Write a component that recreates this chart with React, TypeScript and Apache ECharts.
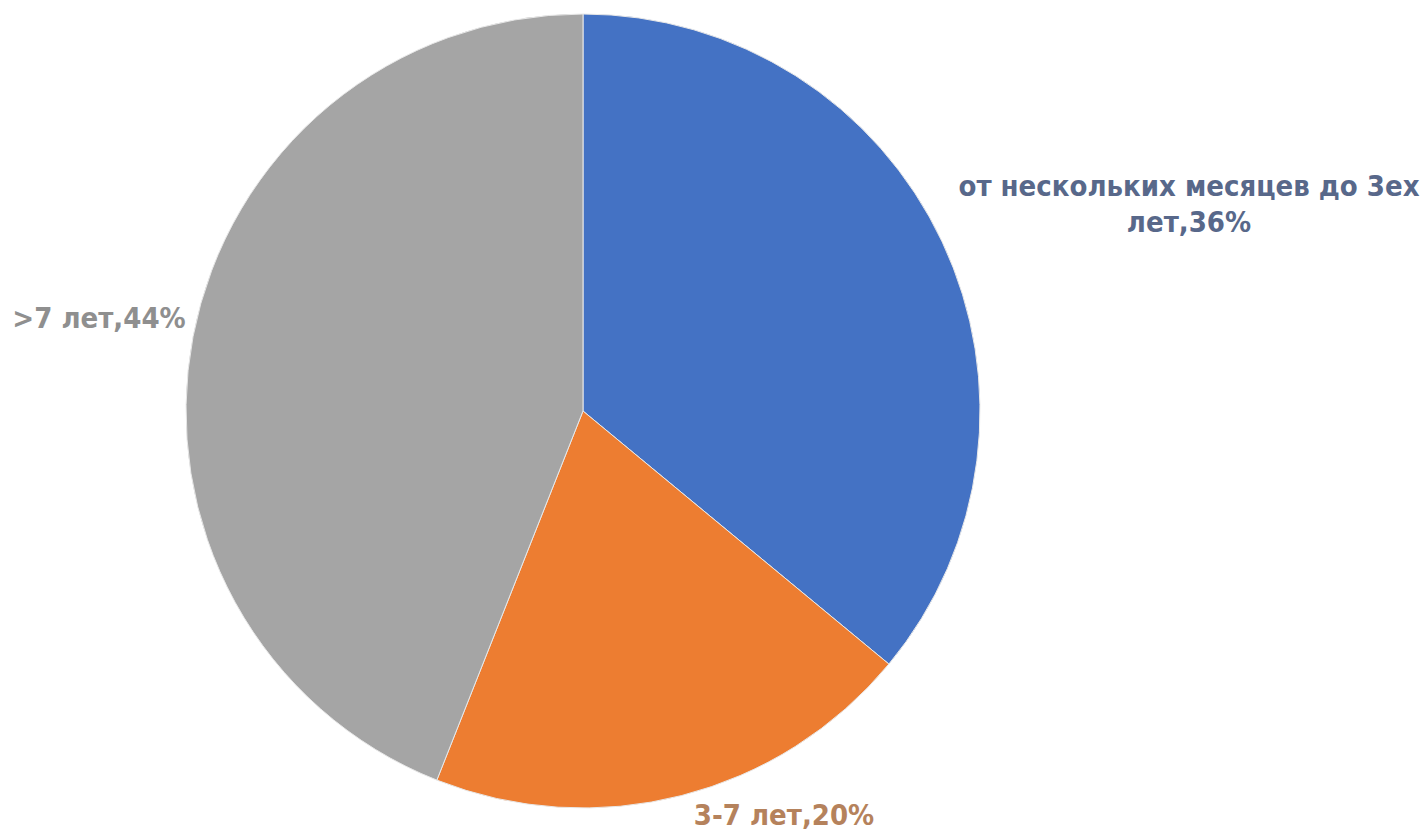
import React, { useEffect, useRef } from "react";
import * as echarts from "echarts";

const categories = ["от нескольких месяцев до 3ех\nлет", "3-7 лет", ">7 лет"];
const values = [36, 20, 44];
const colors = ["#4472C4", "#ED7D31", "#A5A5A5"];
const labelColors = ["#58688a", "#b5825c", "#8f8f8f"];

export default function App() {
  const ref = useRef<HTMLDivElement>(null);
  useEffect(() => {
    document.body.style.margin = "0";
    const chart = echarts.init(ref.current!, null, { renderer: "svg" });
    const labelPos: Record<number, { x: number; y: number }> = {
      0: { x: 1189, y: 204 },
      1: { x: 784, y: 815 },
      2: { x: 99, y: 318 },
    };
    chart.setOption({
      animation: false,
      backgroundColor: "#ffffff",
      series: [
        {
          type: "pie",
          center: [583, 411],
          radius: 397,
          startAngle: 90,
          clockwise: true,
          avoidLabelOverlap: false,
          data: categories.map((c, i) => ({
            name: c,
            value: values[i],
            itemStyle: { color: colors[i] },
            label: { color: labelColors[i] },
          })),
          itemStyle: { borderColor: "#e8e8e8", borderWidth: 1 },
          label: {
            show: true,
            position: "outside",
            overflow: "none",
            formatter: (p: any) => `${p.name},${p.value}%`,
            fontFamily: "DejaVu Sans Condensed",
            fontWeight: "bold",
            fontSize: 29,
            lineHeight: 36,
            align: "center",
          },
          labelLine: { show: false },
          labelLayout: (params: any) => {
            const pos = labelPos[params.dataIndex];
            return { x: pos.x, y: pos.y, align: "center", verticalAlign: "middle" };
          },
        },
      ],
    });
    return () => chart.dispose();
  }, []);
  return (
    <div
      ref={ref}
      style={{ position: "absolute", left: 0, top: 0, width: 1428, height: 832 }}
    />
  );
}
